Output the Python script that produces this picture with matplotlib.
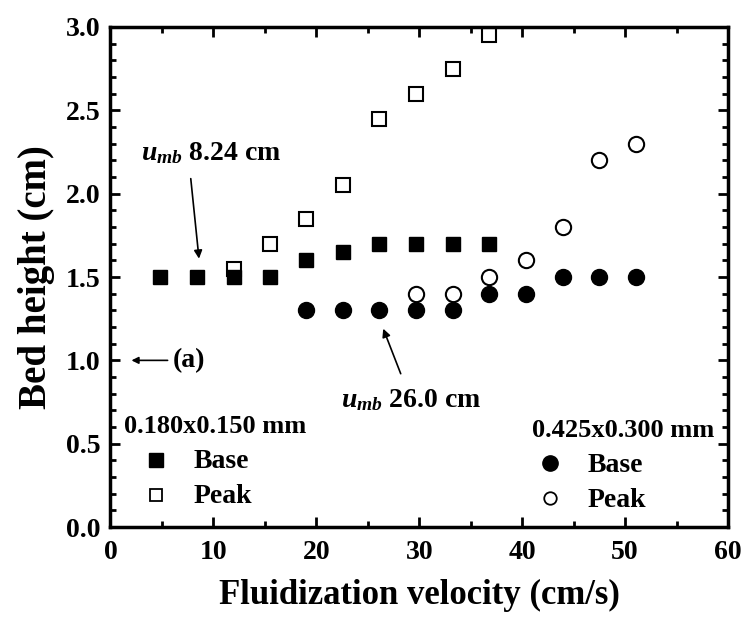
import matplotlib
matplotlib.use("Agg")
import matplotlib.pyplot as plt
from matplotlib.ticker import MultipleLocator, FormatStrFormatter

plt.rcParams['font.family'] = ['Liberation Serif', 'DejaVu Serif']
plt.rcParams['font.weight'] = 'bold'
plt.rcParams['mathtext.fontset'] = 'custom'
plt.rcParams['mathtext.it'] = 'Liberation Serif:bold:italic'
plt.rcParams['mathtext.rm'] = 'Liberation Serif:bold'
plt.rcParams['mathtext.bf'] = 'Liberation Serif:bold'

# 0.180x0.150 mm
sq_base_x = [4.8, 8.4, 12.0, 15.5, 19.0, 22.6, 26.1, 29.7, 33.3, 36.8]
sq_base_y = [1.5, 1.5, 1.5, 1.5, 1.6, 1.65, 1.7, 1.7, 1.7, 1.7]
sq_peak_x = [12.0, 15.5, 19.0, 22.6, 26.1, 29.7, 33.3, 36.8]
sq_peak_y = [1.55, 1.7, 1.85, 2.05, 2.45, 2.6, 2.75, 2.95]

# 0.425x0.300 mm
ci_base_x = [19.0, 22.6, 26.1, 29.7, 33.3, 36.8, 40.4, 44.0, 47.5, 51.1]
ci_base_y = [1.3, 1.3, 1.3, 1.3, 1.3, 1.4, 1.4, 1.5, 1.5, 1.5]
ci_peak_x = [29.7, 33.3, 36.8, 40.4, 44.0, 47.5, 51.1]
ci_peak_y = [1.4, 1.4, 1.5, 1.6, 1.8, 2.2, 2.3]

fig = plt.figure(figsize=(7.44, 6.26), dpi=100)
ax = fig.add_axes([0.1485, 0.158, 0.830, 0.799])

ms = 10.5
ax.plot(sq_peak_x, sq_peak_y, 's', ms=ms, mfc='white', mec='black', mew=1.5, ls='none')
ax.plot(sq_base_x, sq_base_y, 's', ms=ms, mfc='black', mec='black', ls='none')
ax.plot(ci_peak_x, ci_peak_y, 'o', ms=11, mfc='white', mec='black', mew=1.5, ls='none')
ax.plot(ci_base_x, ci_base_y, 'o', ms=11.5, mfc='black', mec='black', ls='none')

ax.set_xlim(0, 60)
ax.set_ylim(0, 3.0)
ax.xaxis.set_major_locator(MultipleLocator(10))
ax.xaxis.set_minor_locator(MultipleLocator(5))
ax.yaxis.set_major_locator(MultipleLocator(0.5))
ax.yaxis.set_minor_locator(MultipleLocator(0.1))
ax.tick_params(which='both', direction='in', top=True, right=True, width=2)
ax.tick_params(which='major', length=7, labelsize=20)
ax.tick_params(axis='x', which='major', pad=9)
ax.tick_params(axis='y', which='major', pad=7)
ax.tick_params(which='minor', length=4)
for s in ax.spines.values():
    s.set_linewidth(2.5)
ax.yaxis.set_major_formatter(FormatStrFormatter('%.1f'))

ax.set_xlabel('Fluidization velocity (cm/s)', fontsize=25, fontweight='bold', labelpad=10)
ax.set_ylabel('Bed height (cm)', fontsize=28, fontweight='bold', labelpad=8)

arrow = dict(arrowstyle='-|>', color='black', lw=1.2, shrinkA=0, shrinkB=0, mutation_scale=12)

# annotations
ax.annotate('', xy=(8.6, 1.61), xytext=(7.8, 2.09), arrowprops=arrow)
ax.text(2.92, 2.2, r'$u_{mb}$ 8.24 cm', fontsize=20, fontweight='bold',
        ha='left', va='baseline')
ax.annotate('', xy=(26.5, 1.19), xytext=(28.2, 0.92), arrowprops=arrow)
ax.text(22.4, 0.72, r'$u_{mb}$ 26.0 cm', fontsize=20, fontweight='bold',
        ha='left', va='baseline')
ax.annotate('', xy=(2.04, 1.0), xytext=(5.55, 1.0),
            arrowprops=dict(arrowstyle='-|>', color='black', lw=1.2,
                            shrinkA=0, shrinkB=0, mutation_scale=10))
ax.text(6.04, 1.0, '(a)', fontsize=20, fontweight='bold', ha='left', va='center')

# legends as text
ax.text(1.27, 0.564, '0.180x0.150 mm', fontsize=19, fontweight='bold', ha='left', va='baseline')
ax.plot([4.38], [0.40], 's', ms=9.5, mfc='black', mec='black')
ax.plot([4.38], [0.19], 's', ms=8, mfc='white', mec='black', mew=1.3)
ax.text(8.08, 0.354, 'Base', fontsize=20, fontweight='bold', ha='left', va='baseline')
ax.text(8.08, 0.144, 'Peak', fontsize=20, fontweight='bold', ha='left', va='baseline')

ax.text(58.7, 0.54, '0.425x0.300 mm', fontsize=19, fontweight='bold', ha='right', va='baseline')
ax.plot([42.7], [0.384], 'o', ms=11, mfc='black', mec='black')
ax.plot([42.7], [0.174], 'o', ms=9, mfc='white', mec='black', mew=1.3)
ax.text(46.4, 0.33, 'Base', fontsize=20, fontweight='bold', ha='left', va='baseline')
ax.text(46.4, 0.12, 'Peak', fontsize=20, fontweight='bold', ha='left', va='baseline')

fig.savefig('out.png', dpi=100)
